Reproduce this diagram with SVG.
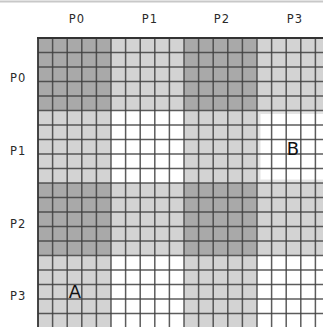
<svg xmlns="http://www.w3.org/2000/svg" width="323" height="327" viewBox="0 0 323 327">
<style>
.dark{fill:#a9a9a9}
.light{fill:#d3d3d3}
.white{fill:#ffffff}
.grid line{stroke:#404040;stroke-width:1.5;opacity:0.85}
.lbl{font-family:"DejaVu Sans",sans-serif;font-size:11.5px;fill:#2a2a2a;letter-spacing:1px}
.big{font-family:"DejaVu Sans",sans-serif;font-size:18px;fill:#111;text-anchor:middle}
</style>
<rect width="323" height="327" fill="#fff"/>
<line x1="0" y1="1.5" x2="323" y2="1.5" stroke="#c8c8c8" stroke-width="2"/>
<g id="blocks">
<rect class="dark" x="38" y="38" width="73" height="72.5"/>
<rect class="light" x="111" y="38" width="73" height="72.5"/>
<rect class="dark" x="184" y="38" width="73" height="72.5"/>
<rect class="light" x="257" y="38" width="66" height="72.5"/>
<rect class="light" x="38" y="110.5" width="73" height="72.5"/>
<rect class="white" x="111" y="110.5" width="73" height="72.5"/>
<rect class="light" x="184" y="110.5" width="73" height="72.5"/>
<rect class="white" x="257" y="110.5" width="66" height="72.5"/>
<rect class="dark" x="38" y="183" width="73" height="72.5"/>
<rect class="light" x="111" y="183" width="73" height="72.5"/>
<rect class="dark" x="184" y="183" width="73" height="72.5"/>
<rect class="light" x="257" y="183" width="66" height="72.5"/>
<rect class="light" x="38" y="255.5" width="73" height="72"/>
<rect class="white" x="111" y="255.5" width="73" height="72"/>
<rect class="light" x="184" y="255.5" width="73" height="72"/>
<rect class="white" x="257" y="255.5" width="66" height="72"/>
<rect x="259" y="112.5" width="66" height="68.5" fill="none" stroke="#e4e4e4" stroke-width="3"/>
</g>
<g id="grid" class="grid">
<line x1="38" y1="38" x2="38" y2="327"/>
<line x1="52.6" y1="38" x2="52.6" y2="327"/>
<line x1="67.2" y1="38" x2="67.2" y2="327"/>
<line x1="81.8" y1="38" x2="81.8" y2="327"/>
<line x1="96.4" y1="38" x2="96.4" y2="327"/>
<line x1="111" y1="38" x2="111" y2="327"/>
<line x1="125.6" y1="38" x2="125.6" y2="327"/>
<line x1="140.2" y1="38" x2="140.2" y2="327"/>
<line x1="154.8" y1="38" x2="154.8" y2="327"/>
<line x1="169.4" y1="38" x2="169.4" y2="327"/>
<line x1="184" y1="38" x2="184" y2="327"/>
<line x1="198.6" y1="38" x2="198.6" y2="327"/>
<line x1="213.2" y1="38" x2="213.2" y2="327"/>
<line x1="227.8" y1="38" x2="227.8" y2="327"/>
<line x1="242.4" y1="38" x2="242.4" y2="327"/>
<line x1="257" y1="38" x2="257" y2="327"/>
<line x1="271.6" y1="38" x2="271.6" y2="327"/>
<line x1="286.2" y1="38" x2="286.2" y2="327"/>
<line x1="300.8" y1="38" x2="300.8" y2="327"/>
<line x1="315.4" y1="38" x2="315.4" y2="327"/>
<line x1="38" y1="38" x2="323" y2="38"/>
<line x1="38" y1="52.5" x2="323" y2="52.5"/>
<line x1="38" y1="67" x2="323" y2="67"/>
<line x1="38" y1="81.5" x2="323" y2="81.5"/>
<line x1="38" y1="96" x2="323" y2="96"/>
<line x1="38" y1="110.5" x2="323" y2="110.5"/>
<line x1="38" y1="125" x2="323" y2="125"/>
<line x1="38" y1="139.5" x2="323" y2="139.5"/>
<line x1="38" y1="154" x2="323" y2="154"/>
<line x1="38" y1="168.5" x2="323" y2="168.5"/>
<line x1="38" y1="183" x2="323" y2="183"/>
<line x1="38" y1="197.5" x2="323" y2="197.5"/>
<line x1="38" y1="212" x2="323" y2="212"/>
<line x1="38" y1="226.5" x2="323" y2="226.5"/>
<line x1="38" y1="241" x2="323" y2="241"/>
<line x1="38" y1="255.5" x2="323" y2="255.5"/>
<line x1="38" y1="270" x2="323" y2="270"/>
<line x1="38" y1="284.5" x2="323" y2="284.5"/>
<line x1="38" y1="299" x2="323" y2="299"/>
<line x1="38" y1="313.5" x2="323" y2="313.5"/>
</g>
<line x1="37" y1="38" x2="323" y2="38" stroke="#333" stroke-width="2"/>
<line x1="38" y1="38" x2="38" y2="327" stroke="#333" stroke-width="1.5"/>
<g id="col-labels" class="lbl" text-anchor="middle">
<text x="77" y="23">P0</text>
<text x="150" y="23">P1</text>
<text x="222" y="23">P2</text>
<text x="295" y="23">P3</text>
</g>
<g id="row-labels" class="lbl">
<text x="10" y="82">P0</text>
<text x="10" y="155">P1</text>
<text x="10" y="228">P2</text>
<text x="10" y="300">P3</text>
</g>
<g id="block-A"><text class="big" x="75" y="298">A</text></g>
<g id="block-B"><text class="big" x="293" y="155">B</text></g>
</svg>
